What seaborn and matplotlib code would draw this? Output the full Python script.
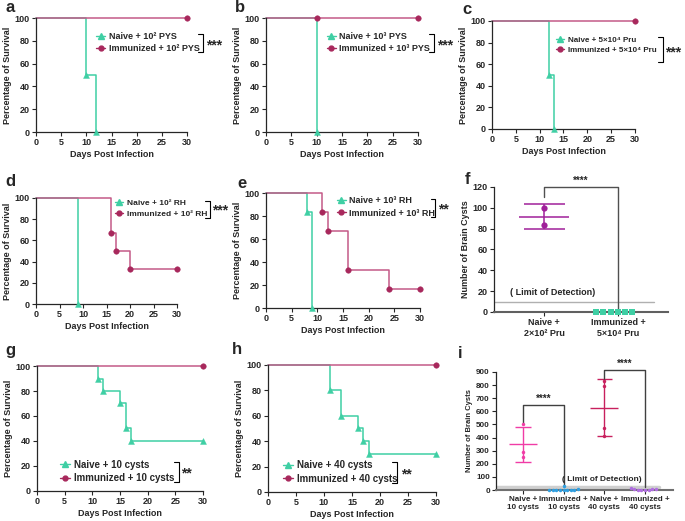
import numpy as np
import pandas as pd
import matplotlib
matplotlib.use('Agg')
import matplotlib.pyplot as plt
from matplotlib.lines import Line2D
import seaborn as sns

# ---- survival data: day of event, % survival (first point = start) ----
a_naive_day = [0, 10, 12]
a_naive_surv = [100, 50, 0]
a_imm_day = [0, 30]
a_imm_surv = [100, 100]

b_naive_day = [0, 10]
b_naive_surv = [100, 0]
b_imm_day = [0, 10, 30]
b_imm_surv = [100, 100, 100]

c_naive_day = [0, 12, 13]
c_naive_surv = [100, 50, 0]
c_imm_day = [0, 30]
c_imm_surv = [100, 100]

d_naive_day = [0, 9]
d_naive_surv = [100, 0]
d_imm_day = [0, 16, 17, 20, 30]
d_imm_surv = [100, 66.7, 50, 33.3, 33.3]

e_naive_day = [0, 8, 9]
e_naive_surv = [100, 83.3, 0]
e_imm_day = [0, 11, 12, 16, 24, 30]
e_imm_surv = [100, 83.3, 66.7, 33.3, 16.7, 16.7]

g_naive_day = [0, 11, 12, 15, 16, 17, 30]
g_naive_surv = [100, 90, 80, 70, 50, 40, 40]
g_imm_day = [0, 30]
g_imm_surv = [100, 100]

h_naive_day = [0, 11, 13, 16, 17, 18, 30]
h_naive_surv = [100, 80, 60, 50, 40, 30, 30]
h_imm_day = [0, 30]
h_imm_surv = [100, 100]

a_labels = ['Naive + 10² PYS', 'Immunized + 10² PYS']
b_labels = ['Naive + 10³ PYS', 'Immunized + 10³ PYS']
c_labels = ['Naive + 5×10⁴ Pru', 'Immunized + 5×10⁴ Pru']
d_labels = ['Naive + 10² RH', 'Immunized + 10² RH']
e_labels = ['Naive + 10³ RH', 'Immunized + 10³ RH']
g_labels = ['Naive + 10 cysts', 'Immunized + 10 cysts']
h_labels = ['Naive + 40 cysts', 'Immunized + 40 cysts']

# ---- brain cyst counts ----
f_groups = ['Naive +\n2×10² Pru', 'Immunized +\n5×10⁴ Pru']
f_naive = [100, 83.3]
f_imm = [0, 0, 0, 0, 0, 0]
f_lod = 10

i_groups = ['Naive +\n10 cysts', 'Immunized +\n10 cysts',
            'Naive +\n40 cysts', 'Immunized +\n40 cysts']
i_naive10 = [501, 293, 254]
i_imm10 = [0, 0, 0, 0, 0, 0, 0, 0, 8, 28]
i_naive40 = [832, 794, 474, 412]
i_imm40 = [0, 0, 0, 0, 5, 8, 10, 12]
i_lod = 20

NAIVE = '#3fcfa4'
IMM_LINE = '#c45a88'
IMM = '#a8285c'

sns.set_style('ticks')
plt.rcParams['font.family'] = ['Liberation Sans', 'DejaVu Sans']
plt.rcParams['font.weight'] = 'bold'
plt.rcParams['axes.labelweight'] = 'bold'
plt.rcParams['axes.linewidth'] = 0.9


def style_axis(ax, fs=6.5):
    sns.despine(ax=ax)
    ax.tick_params(direction='out', length=3, width=0.8, labelsize=fs, pad=1.5)
    for lab in ax.get_xticklabels() + ax.get_yticklabels():
        lab.set_fontweight('bold')


def survival_panel(ax, nd, ns, idy, isv, labels, leg_xy, leg_fs, br_x, br_y, star_txt, star_xy):
    sns.lineplot(x=nd, y=ns, ax=ax, color=NAIVE, lw=1.1, drawstyle='steps-post',
                 estimator=None, sort=False, clip_on=False)
    sns.scatterplot(x=nd[1:], y=ns[1:], ax=ax, marker='^', color=NAIVE, s=18,
                    edgecolor=NAIVE, clip_on=False, zorder=5)
    sns.lineplot(x=idy, y=isv, ax=ax, color=IMM_LINE, lw=1.1, drawstyle='steps-post',
                 estimator=None, sort=False, clip_on=False)
    sns.scatterplot(x=idy[1:], y=isv[1:], ax=ax, marker='o', color=IMM, s=16,
                    edgecolor=IMM, clip_on=False, zorder=5)
    ax.set_xlim(0, 30)
    ax.set_ylim(0, 100)
    ax.set_xticks(range(0, 31, 5))
    ax.set_yticks(range(0, 101, 20))
    ax.set_xlabel('Days Post Infection', fontsize=6.5, labelpad=2)
    ax.set_ylabel('Percentage of Survival', fontsize=6.5, labelpad=2)
    style_axis(ax)
    handles = [Line2D([], [], color=NAIVE, marker='^', lw=1, ms=4),
               Line2D([], [], color=IMM, marker='o', lw=1, ms=3.5)]
    ax.legend(handles, labels, loc='upper left', bbox_to_anchor=leg_xy, frameon=False,
              fontsize=leg_fs, handlelength=1.0, handletextpad=0.4, borderpad=0,
              borderaxespad=0, labelspacing=0.35)
    x0, x1 = br_x
    y0, y1 = br_y
    ax.plot([x0, x1, x1, x0], [y0, y0, y1, y1], transform=ax.transAxes,
            clip_on=False, color='black', lw=0.8)
    ax.text(star_xy[0], star_xy[1], star_txt, transform=ax.transAxes, fontsize=10,
            va='center', ha='left')


def cyst_points(ax, groups, vals, idx, color, marker, size):
    df = pd.DataFrame({'group': [groups[idx]] * len(vals), 'cysts': vals})
    sns.swarmplot(data=df, x='group', y='cysts', order=groups, color=color,
                  marker=marker, size=size, ax=ax, clip_on=False, zorder=5, linewidth=0)


def mean_sd(ax, vals, idx, color, mw, cw, lw=1.1):
    m = np.mean(vals)
    sd = np.std(vals, ddof=1)
    ax.hlines(m, idx - mw, idx + mw, color=color, lw=lw)
    ax.vlines(idx, m - sd, m + sd, color=color, lw=lw)
    ax.hlines([m - sd, m + sd], idx - cw, idx + cw, color=color, lw=lw)


fig = plt.figure(figsize=(6.85, 5.21), dpi=100)
fig.patch.set_facecolor('white')

ax_a = fig.add_axes([0.0526, 0.7466, 0.2204, 0.2188])
ax_b = fig.add_axes([0.3883, 0.7466, 0.2219, 0.2188])
ax_c = fig.add_axes([0.7182, 0.7524, 0.2088, 0.2073])
ax_d = fig.add_axes([0.0526, 0.4165, 0.2058, 0.2035])
ax_e = fig.add_axes([0.3883, 0.4088, 0.2248, 0.2207])
ax_f = fig.add_axes([0.7212, 0.4012, 0.2540, 0.2399])
ax_g = fig.add_axes([0.0540, 0.0576, 0.2423, 0.2399])
ax_h = fig.add_axes([0.3912, 0.0557, 0.2453, 0.2438])
ax_i = fig.add_axes([0.7241, 0.0595, 0.2584, 0.2265])

survival_panel(ax_a, a_naive_day, a_naive_surv, a_imm_day, a_imm_surv, a_labels,
               (0.40, 0.88), 6.5, (1.07, 1.105), (0.86, 0.70), '***', (1.125, 0.76))
survival_panel(ax_b, b_naive_day, b_naive_surv, b_imm_day, b_imm_surv, b_labels,
               (0.40, 0.88), 6.5, (1.07, 1.105), (0.86, 0.70), '***', (1.125, 0.76))
survival_panel(ax_c, c_naive_day, c_naive_surv, c_imm_day, c_imm_surv, c_labels,
               (0.45, 0.86), 5.8, (1.16, 1.195), (0.85, 0.62), '***', (1.21, 0.71))
survival_panel(ax_d, d_naive_day, d_naive_surv, d_imm_day, d_imm_surv, d_labels,
               (0.56, 0.99), 6.0, (1.20, 1.234), (0.97, 0.81), '***', (1.25, 0.88))
survival_panel(ax_e, e_naive_day, e_naive_surv, e_imm_day, e_imm_surv, e_labels,
               (0.46, 0.97), 6.5, (1.07, 1.10), (0.95, 0.79), '**', (1.12, 0.86))
survival_panel(ax_g, g_naive_day, g_naive_surv, g_imm_day, g_imm_surv, g_labels,
               (0.14, 0.25), 7.0, (0.825, 0.855), (0.23, 0.07), '**', (0.87, 0.14))
survival_panel(ax_h, h_naive_day, h_naive_surv, h_imm_day, h_imm_surv, h_labels,
               (0.09, 0.25), 7.0, (0.74, 0.77), (0.236, 0.07), '**', (0.79, 0.14))

# ---- panel f ----
cyst_points(ax_f, f_groups, f_naive, 0, '#a0209a', 'o', 4.5)
cyst_points(ax_f, f_groups, f_imm, 1, '#3fcfa4', 's', 5)
mean_sd(ax_f, f_naive, 0, '#a0209a', 0.34, 0.28)
ax_f.axhline(f_lod, xmin=0, xmax=(1.49 + 0.68) / 2.36, color='#b0b0b0', lw=1)
ax_f.text(-0.46, f_lod + 4, '( Limit of Detection)', fontsize=6.5, va='bottom', ha='left')
ax_f.plot([0, 0, 1, 1], [110, 120, 120, 0], color='#505050', lw=1, clip_on=False)
ax_f.text(0.5, 121, '****', fontsize=7, ha='center', va='bottom')
ax_f.set_xlim(-0.68, 1.68)
ax_f.set_ylim(0, 120)
ax_f.set_yticks(range(0, 121, 20))
ax_f.set_xticks([0, 1])
ax_f.set_xticklabels(f_groups)
ax_f.set_xlabel('')
ax_f.set_ylabel('Number of Brain Cysts', fontsize=6.5, labelpad=2)
style_axis(ax_f)
ax_f.spines['bottom'].set_color('#606060')
ax_f.spines['bottom'].set_linewidth(1.5)

# ---- panel i ----
cyst_points(ax_i, i_groups, i_naive10, 0, '#f03ca6', 'o', 2.5)
cyst_points(ax_i, i_groups, i_imm10, 1, '#2f9fe0', 'o', 2.5)
cyst_points(ax_i, i_groups, i_naive40, 2, '#c8205e', 'o', 2.5)
cyst_points(ax_i, i_groups, i_imm40, 3, '#b06ee0', 'o', 2.5)
mean_sd(ax_i, i_naive10, 0, '#f03ca6', 0.35, 0.19, lw=1)
mean_sd(ax_i, i_naive40, 2, '#c8205e', 0.35, 0.19, lw=1)
ax_i.axhline(i_lod, xmin=0, xmax=(3.34 + 0.66) / 4.35, color='#cfcfcf', lw=2.5, zorder=1)
ax_i.text(1.95, i_lod + 30, '( Limit of Detection)', fontsize=6, va='bottom', ha='center')
ax_i.plot([0, 0, 1, 1], [510, 645, 645, 25], color='#404040', lw=1, clip_on=False)
ax_i.text(0.5, 655, '****', fontsize=7, ha='center', va='bottom')
ax_i.plot([2, 2, 3, 3], [850, 913, 913, 25], color='#404040', lw=1, clip_on=False)
ax_i.text(2.5, 925, '****', fontsize=7, ha='center', va='bottom')
ax_i.set_xlim(-0.66, 3.69)
ax_i.set_ylim(0, 900)
ax_i.set_yticks(range(0, 901, 100))
ax_i.set_xticks([0, 1, 2, 3])
ax_i.set_xticklabels(i_groups)
ax_i.set_xlabel('')
ax_i.set_ylabel('Number of Brain Cysts', fontsize=5.5, labelpad=2)
style_axis(ax_i, fs=5.8)
ax_i.spines['bottom'].set_color('#707070')
ax_i.spines['bottom'].set_linewidth(1.5)

# panel letters
for letter, px, py in [('a', 5, 8), ('b', 235, 8), ('c', 462, 9), ('d', 5, 182),
                       ('e', 237, 183), ('f', 465, 180), ('g', 5, 351),
                       ('h', 232, 349), ('i', 458, 353)]:
    fig.text(px / 685, 1 - py / 521, letter, fontsize=12, fontweight='bold',
             va='center', ha='left')

fig.savefig('out.png', dpi=100)
